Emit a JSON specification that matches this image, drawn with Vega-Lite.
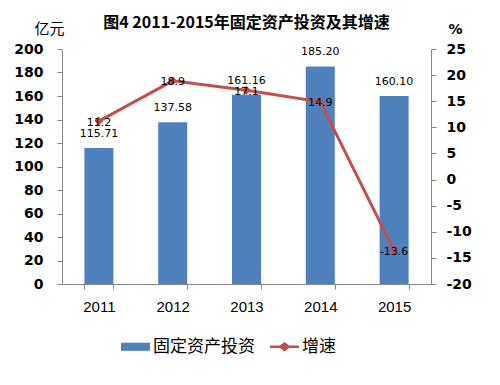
{
  "$schema": "https://vega.github.io/schema/vega-lite/v6.json",
  "width": 369,
  "height": 235,
  "autosize": "none",
  "padding": {"left": 62, "top": 49, "right": 69, "bottom": 101},
  "background": "white",
  "config": {"view": {"stroke": null}, "font": "DejaVu Sans"},
  "title": {
    "text": "图4 2011-2015年固定资产投资及其增速",
    "font": "Noto Sans CJK SC",
    "fontSize": 16,
    "fontWeight": "bold",
    "color": "#000000",
    "anchor": "middle",
    "offset": 4,
    "dy": 14
  },
  "data": {
    "values": [
      {"year": "2011", "invest": 115.71, "growth": 11.2},
      {"year": "2012", "invest": 137.58, "growth": 18.9},
      {"year": "2013", "invest": 161.16, "growth": 17.1},
      {"year": "2014", "invest": 185.20, "growth": 14.9},
      {"year": "2015", "invest": 160.10, "growth": -13.6}
    ]
  },
  "encoding": {
    "x": {
      "field": "year",
      "type": "ordinal",
      "scale": {"paddingInner": 0.607, "paddingOuter": 0.3035},
      "axis": {
        "title": null,
        "labelAngle": 0,
        "labelFont": "Liberation Sans",
        "labelFontSize": 15,
        "labelColor": "#000000",
        "labelPadding": 10,
        "domainColor": "#868686",
        "tickColor": "#868686",
        "tickSize": 5,
        "tickBand": "extent",
        "grid": false
      }
    }
  },
  "layer": [
    {
      "encoding": {
        "y": {
          "field": "invest",
          "type": "quantitative",
          "scale": {"domain": [0, 200], "nice": false},
          "axis": {
            "orient": "left",
            "values": [0, 20, 40, 60, 80, 100, 120, 140, 160, 180, 200],
            "title": "亿元",
            "titleFont": "Noto Sans CJK SC",
            "titleFontSize": 15,
            "titleFontWeight": "normal",
            "titleColor": "#000000",
            "titleAngle": 0,
            "titleAlign": "center",
            "titleBaseline": "middle",
            "titleX": -13,
            "titleY": -21,
            "labelFont": "DejaVu Sans",
            "labelFontSize": 14,
            "labelFontWeight": "bold",
            "labelColor": "#000000",
            "labelPadding": 14,
            "domainColor": "#868686",
            "tickColor": "#868686",
            "tickSize": 5,
            "grid": false
          }
        }
      },
      "layer": [
        {
          "mark": {"type": "bar"},
          "encoding": {
            "color": {
              "datum": "固定资产投资",
              "scale": {"domain": ["固定资产投资", "增速"], "range": ["#4F81BD", "#C0504D"]},
              "legend": {
                "orient": "none",
                "legendX": 59,
                "legendY": 283,
                "direction": "horizontal",
                "title": null,
                "padding": 0,
                "labelFont": "Noto Sans CJK SC",
                "labelFontSize": 17,
                "labelColor": "#000000",
                "symbolSize": 841,
                "labelOffset": 3,
                "columnPadding": 15,
                "encode": {
                  "symbols": {
                    "update": {
                      "shape": {"signal": "datum.value === '增速' ? 'M-1,-0.09H-0.32L0,-0.32L0.32,-0.09H1V0.09H0.32L0,0.32L-0.32,0.09H-1Z' : 'M-1,-0.28H1V0.28H-1Z'"},
                      "fill": {"signal": "datum.value === '增速' ? '#C0504D' : '#4F81BD'"},
                      "stroke": {"value": "transparent"},
                      "strokeWidth": {"value": 0},
                      "opacity": {"value": 1},
                      "fillOpacity": {"value": 1}
                    }
                  }
                }
              }
            }
          }
        },
        {
          "mark": {"type": "text", "baseline": "middle", "dy": -14, "font": "DejaVu Sans", "fontSize": 11, "color": "#000000"},
          "encoding": {
            "text": {"field": "invest", "type": "quantitative", "format": ".2f"}
          }
        }
      ]
    },
    {
      "encoding": {
        "y": {
          "field": "growth",
          "type": "quantitative",
          "scale": {"domain": [-20, 25], "nice": false, "zero": false},
          "axis": {
            "orient": "right",
            "values": [-20, -15, -10, -5, 0, 5, 10, 15, 20, 25],
            "labelExpr": "datum.value < 0 ? '-' + abs(datum.value) : '' + datum.value",
            "title": "%",
            "titleFont": "DejaVu Sans",
            "titleFontSize": 14,
            "titleFontWeight": "bold",
            "titleColor": "#000000",
            "titleAngle": 0,
            "titleAlign": "center",
            "titleBaseline": "middle",
            "titleX": 24,
            "titleY": -20,
            "labelFont": "DejaVu Sans",
            "labelFontSize": 14,
            "labelFontWeight": "bold",
            "labelColor": "#000000",
            "labelPadding": 10,
            "domainColor": "#868686",
            "tickColor": "#868686",
            "tickSize": 5,
            "grid": false
          }
        }
      },
      "layer": [
        {
          "mark": {
            "type": "line",
            "strokeWidth": 3,
            "point": {"shape": "diamond", "size": 80, "filled": true}
          },
          "encoding": {
            "color": {"datum": "增速"}
          }
        },
        {
          "mark": {"type": "text", "baseline": "middle", "dy": 1.5, "font": "DejaVu Sans", "fontSize": 11, "color": "#000000"},
          "encoding": {
            "text": {"field": "growth", "type": "nominal"}
          }
        }
      ]
    }
  ],
  "resolve": {"scale": {"y": "independent"}}
}
